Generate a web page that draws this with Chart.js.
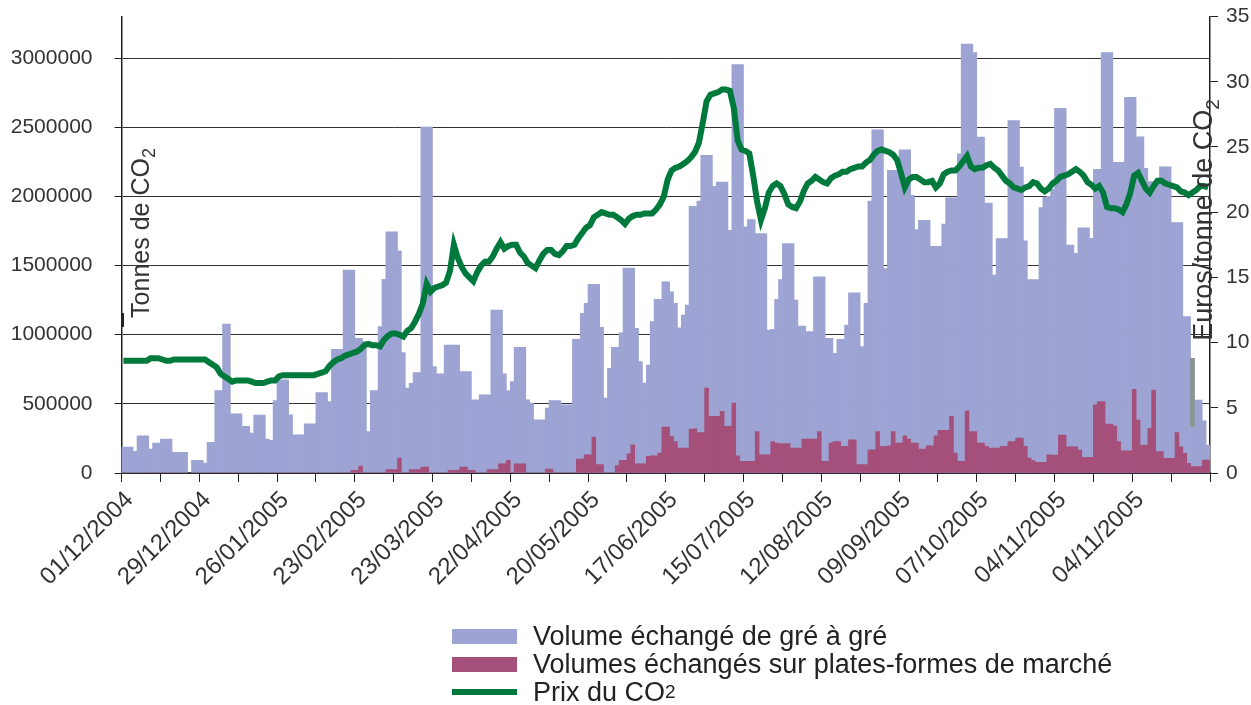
<!DOCTYPE html>
<html>
<head>
    <meta charset="utf-8" />
    <title>Volumes échangés et prix du CO2</title>
    <script src="https://cdn.jsdelivr.net/npm/chart.js@4.4.0/dist/chart.umd.min.js"></script>
    <style>
        body { margin: 0; background: #fff; }
        #cadre { position: relative; width: 1251px; height: 705px; overflow: hidden; }
        .legende { position: absolute; left: 452px; top: 622px; font-family: "Liberation Sans", Arial, sans-serif;
            font-size: 27px; color: #222; line-height: 28px; }
        .legende div { display: flex; align-items: center; white-space: nowrap; }
        .legende span { display: inline-block; width: 65px; margin-right: 16px; }
        .legende sub { font-size: 19px; vertical-align: -7px; line-height: 0; }
    </style>
</head>
<body>
<div id="cadre">
    <canvas id="graphique" width="1251" height="705"></canvas>
    <div class="legende">
        <div><span id="carre1" style="height:15px"></span>Volume échangé de gré à gré</div>
        <div><span id="carre2" style="height:15px"></span>Volumes échangés sur plates-formes de marché</div>
        <div><span id="carre3" style="height:6px"></span>Prix du CO<sub>2</sub></div>
    </div>
</div>
<script>
    // étiquettes de l'axe des dates (une toutes les 20 séances)
    const etiquettes = ['01/12/2004', '29/12/2004', '26/01/2005', '23/02/2005', '23/03/2005', '22/04/2005',
        '20/05/2005', '17/06/2005', '15/07/2005', '12/08/2005', '09/09/2005', '07/10/2005', '04/11/2005', '04/11/2005'];

    // graduations des deux axes verticaux
    const gradVolume = [0, 500000, 1000000, 1500000, 2000000, 2500000, 3000000];
    const gradPrix = [0, 5, 10, 15, 20, 25, 30, 35];

    // volume échangé de gré à gré (tonnes)
    const volumeGreAGre = [
        187000, 187000, 187000, 156000, 269000, 269000, 269000, 173000, 216000, 216000, 245000, 245000, 245000, 149000, 149000, 149000, 149000, 0, 91000, 91000,
        91000, 72000, 221000, 221000, 596000, 596000, 1077000, 1077000, 428000, 428000, 428000, 337000, 337000, 288000, 418000, 418000, 418000, 245000, 236000, 524000,
        673000, 673000, 673000, 420000, 276000, 276000, 276000, 356000, 356000, 356000, 582000, 582000, 582000, 517000, 894000, 894000, 894000, 1466000, 1466000, 1466000,
        974000, 974000, 950000, 300000, 596000, 596000, 1058000, 1400000, 1743000, 1743000, 1743000, 1606000, 870000, 613000, 649000, 726000, 726000, 2500000, 2500000, 2500000,
        769000, 716000, 716000, 925000, 925000, 925000, 925000, 733000, 733000, 733000, 529000, 529000, 565000, 565000, 565000, 1178000, 1178000, 1178000, 716000, 596000,
        661000, 909000, 909000, 909000, 529000, 505000, 385000, 385000, 385000, 469000, 524000, 524000, 524000, 493000, 493000, 493000, 966000, 966000, 1154000, 1226000,
        1363000, 1363000, 1363000, 1053000, 541000, 757000, 909000, 909000, 1014000, 1481000, 1481000, 1481000, 1046000, 805000, 650000, 781000, 1094000, 1255000, 1255000, 1382000,
        1382000, 1310000, 1226000, 1050000, 1142000, 1214000, 1928000, 1928000, 1966000, 2296000, 2296000, 2296000, 2072000, 2103000, 2103000, 2103000, 1755000, 2952000, 2952000, 2952000,
        1779000, 1832000, 1832000, 1731000, 1731000, 1731000, 1034000, 1038000, 1255000, 1399000, 1659000, 1659000, 1659000, 1250000, 1062000, 1062000, 1022000, 1022000, 1418000, 1418000,
        1418000, 974000, 974000, 865000, 966000, 966000, 1070000, 1303000, 1303000, 1303000, 913000, 1226000, 1966000, 2481000, 2481000, 2481000, 1478000, 2188000, 2188000, 2188000,
        2337000, 2337000, 2337000, 2007000, 1760000, 1827000, 1827000, 1827000, 1639000, 1639000, 1639000, 1800000, 1990000, 1990000, 1990000, 2308000, 3100000, 3100000, 3100000, 3040000,
        2428000, 2428000, 1952000, 1952000, 1430000, 1695000, 1695000, 1695000, 2548000, 2548000, 2548000, 2212000, 1678000, 1399000, 1399000, 1399000, 1918000, 1995000, 2000000, 2050000,
        2636000, 2636000, 2636000, 1648000, 1648000, 1588000, 1773000, 1773000, 1773000, 1696000, 2195000, 2195000, 3040000, 3040000, 3040000, 2246000, 2246000, 2246000, 2716000, 2716000,
        2716000, 2431000, 2431000, 2202000, 2106000, 2106000, 2106000, 2214000, 2214000, 2214000, 1810000, 1810000, 1810000, 1130000, 1130000, 829000, 528000, 528000, 378000, 202000
    ];

    // volumes échangés sur plates-formes de marché (tonnes)
    const volumePlateformes = [
        0, 0, 0, 0, 0, 0, 0, 0, 0, 0, 0, 0, 0, 0, 0, 0, 0, 0, 0, 0,
        0, 0, 0, 0, 0, 0, 0, 0, 0, 0, 0, 0, 0, 0, 0, 0, 0, 0, 0, 0,
        0, 0, 0, 0, 0, 0, 0, 0, 0, 0, 0, 0, 0, 0, 0, 0, 0, 0, 0, 20000,
        20000, 50000, 0, 0, 0, 0, 0, 0, 24000, 24000, 24000, 108000, 0, 0, 24000, 24000, 24000, 43000, 43000, 0,
        0, 0, 0, 0, 20000, 20000, 20000, 43000, 43000, 20000, 20000, 0, 0, 0, 24000, 24000, 24000, 67000, 67000, 91000,
        0, 67000, 67000, 67000, 0, 0, 0, 0, 0, 29000, 29000, 0, 0, 0, 0, 0, 0, 101000, 101000, 132000,
        132000, 260000, 60000, 60000, 0, 0, 0, 53000, 91000, 91000, 139000, 204000, 67000, 67000, 67000, 120000, 125000, 125000, 144000, 332000,
        332000, 265000, 228000, 180000, 180000, 180000, 317000, 320000, 293000, 293000, 613000, 409000, 409000, 409000, 445000, 337000, 337000, 505000, 125000, 84000,
        84000, 84000, 84000, 300000, 132000, 132000, 132000, 228000, 216000, 212000, 212000, 212000, 180000, 180000, 180000, 245000, 245000, 245000, 245000, 300000,
        84000, 84000, 216000, 228000, 228000, 192000, 192000, 240000, 240000, 60000, 60000, 60000, 168000, 168000, 300000, 192000, 192000, 197000, 300000, 216000,
        216000, 269000, 245000, 216000, 216000, 173000, 173000, 197000, 197000, 269000, 308000, 308000, 308000, 409000, 144000, 84000, 84000, 450000, 300000, 300000,
        216000, 216000, 192000, 180000, 180000, 180000, 192000, 192000, 228000, 228000, 252000, 252000, 192000, 108000, 90000, 77000, 77000, 77000, 132000, 130000,
        130000, 275000, 275000, 190000, 190000, 190000, 166000, 113000, 113000, 113000, 492000, 516000, 516000, 354000, 354000, 340000, 227000, 161000, 161000, 161000,
        605000, 383000, 202000, 202000, 323000, 600000, 154000, 154000, 106000, 106000, 106000, 292000, 190000, 142000, 70000, 46000, 46000, 46000, 94000, 94000
    ];

    // prix du CO2 (euros / tonne)
    const prixCO2 = [
        8.6, 8.6, 8.6, 8.6, 8.6, 8.6, 8.6, 8.8, 8.8, 8.8, 8.7, 8.6, 8.6, 8.7, 8.7, 8.7, 8.7, 8.7, 8.7, 8.7,
        8.7, 8.7, 8.5, 8.3, 8.1, 7.6, 7.4, 7.2, 7.0, 7.1, 7.1, 7.1, 7.1, 7.0, 6.9, 6.9, 6.9, 7.0, 7.1, 7.1,
        7.4, 7.5, 7.5, 7.5, 7.5, 7.5, 7.5, 7.5, 7.5, 7.5, 7.6, 7.7, 7.8, 8.2, 8.5, 8.7, 8.8, 9.0, 9.1, 9.2,
        9.3, 9.5, 9.8, 9.9, 9.8, 9.8, 9.7, 10.2, 10.5, 10.7, 10.7, 10.6, 10.45, 10.9, 11.1, 11.6, 12.2, 13.0, 14.5, 13.9,
        14.2, 14.3, 14.4, 14.6, 15.5, 17.5, 16.5, 15.8, 15.3, 15.0, 14.7, 15.4, 15.9, 16.2, 16.2, 16.6, 17.2, 17.7, 17.2, 17.4,
        17.5, 17.5, 16.9, 16.6, 16.1, 15.9, 15.7, 16.3, 16.8, 17.1, 17.1, 16.8, 16.7, 17.0, 17.4, 17.4, 17.5, 18.0, 18.4, 18.8,
        19.0, 19.6, 19.8, 20.0, 19.9, 19.8, 19.8, 19.6, 19.4, 19.1, 19.5, 19.7, 19.8, 19.8, 19.9, 19.9, 19.9, 20.2, 20.6, 21.2,
        22.5, 23.2, 23.4, 23.5, 23.7, 23.9, 24.2, 24.6, 25.3, 26.8, 28.5, 29.0, 29.1, 29.2, 29.4, 29.4, 29.3, 28.0, 25.5, 24.8,
        24.7, 24.5, 22.8, 20.8, 19.4, 20.3, 21.5, 22.0, 22.2, 22.0, 21.4, 20.6, 20.4, 20.3, 20.8, 21.6, 22.2, 22.4, 22.7, 22.5,
        22.3, 22.2, 22.6, 22.8, 22.9, 23.1, 23.1, 23.3, 23.4, 23.5, 23.5, 23.8, 24.0, 24.4, 24.7, 24.8, 24.7, 24.6, 24.4, 24.0,
        23.0, 21.9, 22.5, 22.7, 22.7, 22.5, 22.3, 22.3, 22.4, 21.9, 22.2, 22.9, 23.1, 23.2, 23.2, 23.5, 23.9, 24.3, 23.5, 23.3,
        23.4, 23.4, 23.6, 23.7, 23.4, 23.2, 22.8, 22.4, 22.2, 21.9, 21.8, 21.7, 21.9, 22.0, 22.3, 22.2, 21.8, 21.6, 21.8, 22.2,
        22.4, 22.7, 22.8, 22.9, 23.1, 23.3, 23.1, 22.8, 22.3, 22.1, 21.8, 22.0, 21.5, 20.4, 20.3, 20.3, 20.2, 20.0, 20.6, 21.5,
        22.8, 23.0, 22.4, 21.8, 21.5, 22.0, 22.4, 22.4, 22.2, 22.1, 22.0, 21.9, 21.6, 21.5, 21.3, 21.5, 21.7, 22.0, 22.0, 21.9
    ];

    // barre grise (séance 275) : [bas, haut] en tonnes
    const barreGrise = volumeGreAGre.map((v, i) => i === 275 ? [335000, 829000] : null);

    const jours = volumeGreAGre.map((v, i) => i % 20 === 0 ? etiquettes[i / 20] : '');

    const couleurGreAGre = 'rgb(157, 164, 212)';
    const couleurPlateformes = 'rgb(164, 80, 122)';
    const couleurPrix = 'rgb(0, 122, 60)';
    const police = '"Liberation Sans", Arial, sans-serif';

    document.getElementById('carre1').style.background = couleurGreAGre;
    document.getElementById('carre2').style.background = couleurPlateformes;
    document.getElementById('carre3').style.background = couleurPrix;

    function dessinerTitre(ctx, texte, indice, x, y, taille) {
        ctx.save();
        ctx.translate(x, y);
        ctx.rotate(-Math.PI / 2);
        ctx.fillStyle = '#333';
        ctx.textBaseline = 'alphabetic';
        ctx.font = taille + 'px ' + police;
        let l1 = ctx.measureText(texte).width;
        let petite = Math.round(taille * 0.7) + 'px ' + police;
        ctx.font = petite;
        let l2 = ctx.measureText(indice).width;
        let debut = -(l1 + l2) / 2;
        ctx.font = taille + 'px ' + police;
        ctx.fillText(texte, debut, 0);
        ctx.font = petite;
        ctx.fillText(indice, debut + l1, taille * 0.25);
        ctx.restore();
    }

    const titresAxes = {
        id: 'titresAxes',
        afterDraw(chart) {
            const ctx = chart.ctx;
            dessinerTitre(ctx, 'Tonnes de CO', '2', 149, 233, 25);
            dessinerTitre(ctx, 'Euros/tonne de CO', '2', 1212, 220, 27);
            // petit trait épais sur l'axe de gauche, comme sur l'original
            ctx.fillStyle = '#222';
            ctx.fillRect(chart.chartArea.left - 0.5, 313, 3, 14);
        }
    };

    // pas de marge automatique en haut ou en bas des axes
    function sansMarge(s) {
        s.paddingTop = 0;
        s.paddingBottom = 0;
    }

    Chart.defaults.font.family = police;
    Chart.defaults.color = '#333';

    new Chart(document.getElementById('graphique'), {
        type: 'bar',
        data: {
            labels: jours,
            datasets: [
                {
                    type: 'line',
                    label: 'Prix du CO2',
                    data: prixCO2,
                    yAxisID: 'prix',
                    borderColor: couleurPrix,
                    borderWidth: 6,
                    pointRadius: 0,
                    tension: 0,
                    order: 0
                },
                {
                    label: 'Volumes échangés sur plates-formes de marché',
                    data: volumePlateformes,
                    yAxisID: 'volume',
                    backgroundColor: couleurPlateformes,
                    grouped: false,
                    barPercentage: 1,
                    categoryPercentage: 1,
                    order: 1
                },
                {
                    label: 'gris',
                    data: barreGrise,
                    yAxisID: 'volume',
                    backgroundColor: 'rgb(140, 150, 145)',
                    grouped: false,
                    barPercentage: 1,
                    categoryPercentage: 1,
                    order: 2
                },
                {
                    label: 'Volume échangé de gré à gré',
                    data: volumeGreAGre,
                    yAxisID: 'volume',
                    backgroundColor: couleurGreAGre,
                    grouped: false,
                    barPercentage: 1,
                    categoryPercentage: 1,
                    order: 3
                }
            ]
        },
        options: {
            responsive: false,
            animation: false,
            layout: { padding: { top: 16.5, left: 0, right: 0, bottom: 0 } },
            plugins: { legend: { display: false }, tooltip: { enabled: false } },
            scales: {
                x: {
                    offset: true,
                    grid: {
                        offset: true,
                        drawOnChartArea: false,
                        tickLength: 9,
                        tickColor: ctx => (ctx.index === undefined || ctx.index % 10 === 0) ? '#222' : 'rgba(0,0,0,0)'
                    },
                    border: { color: '#222', width: 1.5 },
                    ticks: {
                        autoSkip: false,
                        minRotation: 45,
                        maxRotation: 45,
                        padding: 4,
                        labelOffset: 6,
                        color: '#333',
                        font: { size: 24 },
                        callback: function (val, i) { return i % 20 === 0 ? this.getLabelForValue(val) : ''; }
                    },
                    afterFit: s => { s.height = 232; s.paddingLeft = 0; s.paddingRight = 0; }
                },
                volume: {
                    type: 'linear',
                    position: 'left',
                    min: 0,
                    max: 3300000,
                    afterBuildTicks: s => { s.ticks = gradVolume.map(v => ({ value: v })); },
                    ticks: { padding: 22, color: '#333', font: { size: 21 }, callback: v => String(v) },
                    grid: { color: '#333', lineWidth: 1, tickLength: 7, tickColor: '#222' },
                    border: { color: '#222', width: 1.5 },
                    afterFit: s => { s.width = 121.5; sansMarge(s); }
                },
                prix: {
                    type: 'linear',
                    position: 'right',
                    min: 0,
                    max: 35,
                    afterBuildTicks: s => { s.ticks = gradPrix.map(v => ({ value: v })); },
                    ticks: { padding: 8, color: '#333', font: { size: 21 } },
                    grid: { drawOnChartArea: false, tickLength: 8, tickColor: '#222' },
                    border: { color: '#222', width: 1.5 },
                    afterFit: s => { s.width = 41; sansMarge(s); }
                }
            }
        },
        plugins: [titresAxes]
    });
</script>
</body>
</html>
